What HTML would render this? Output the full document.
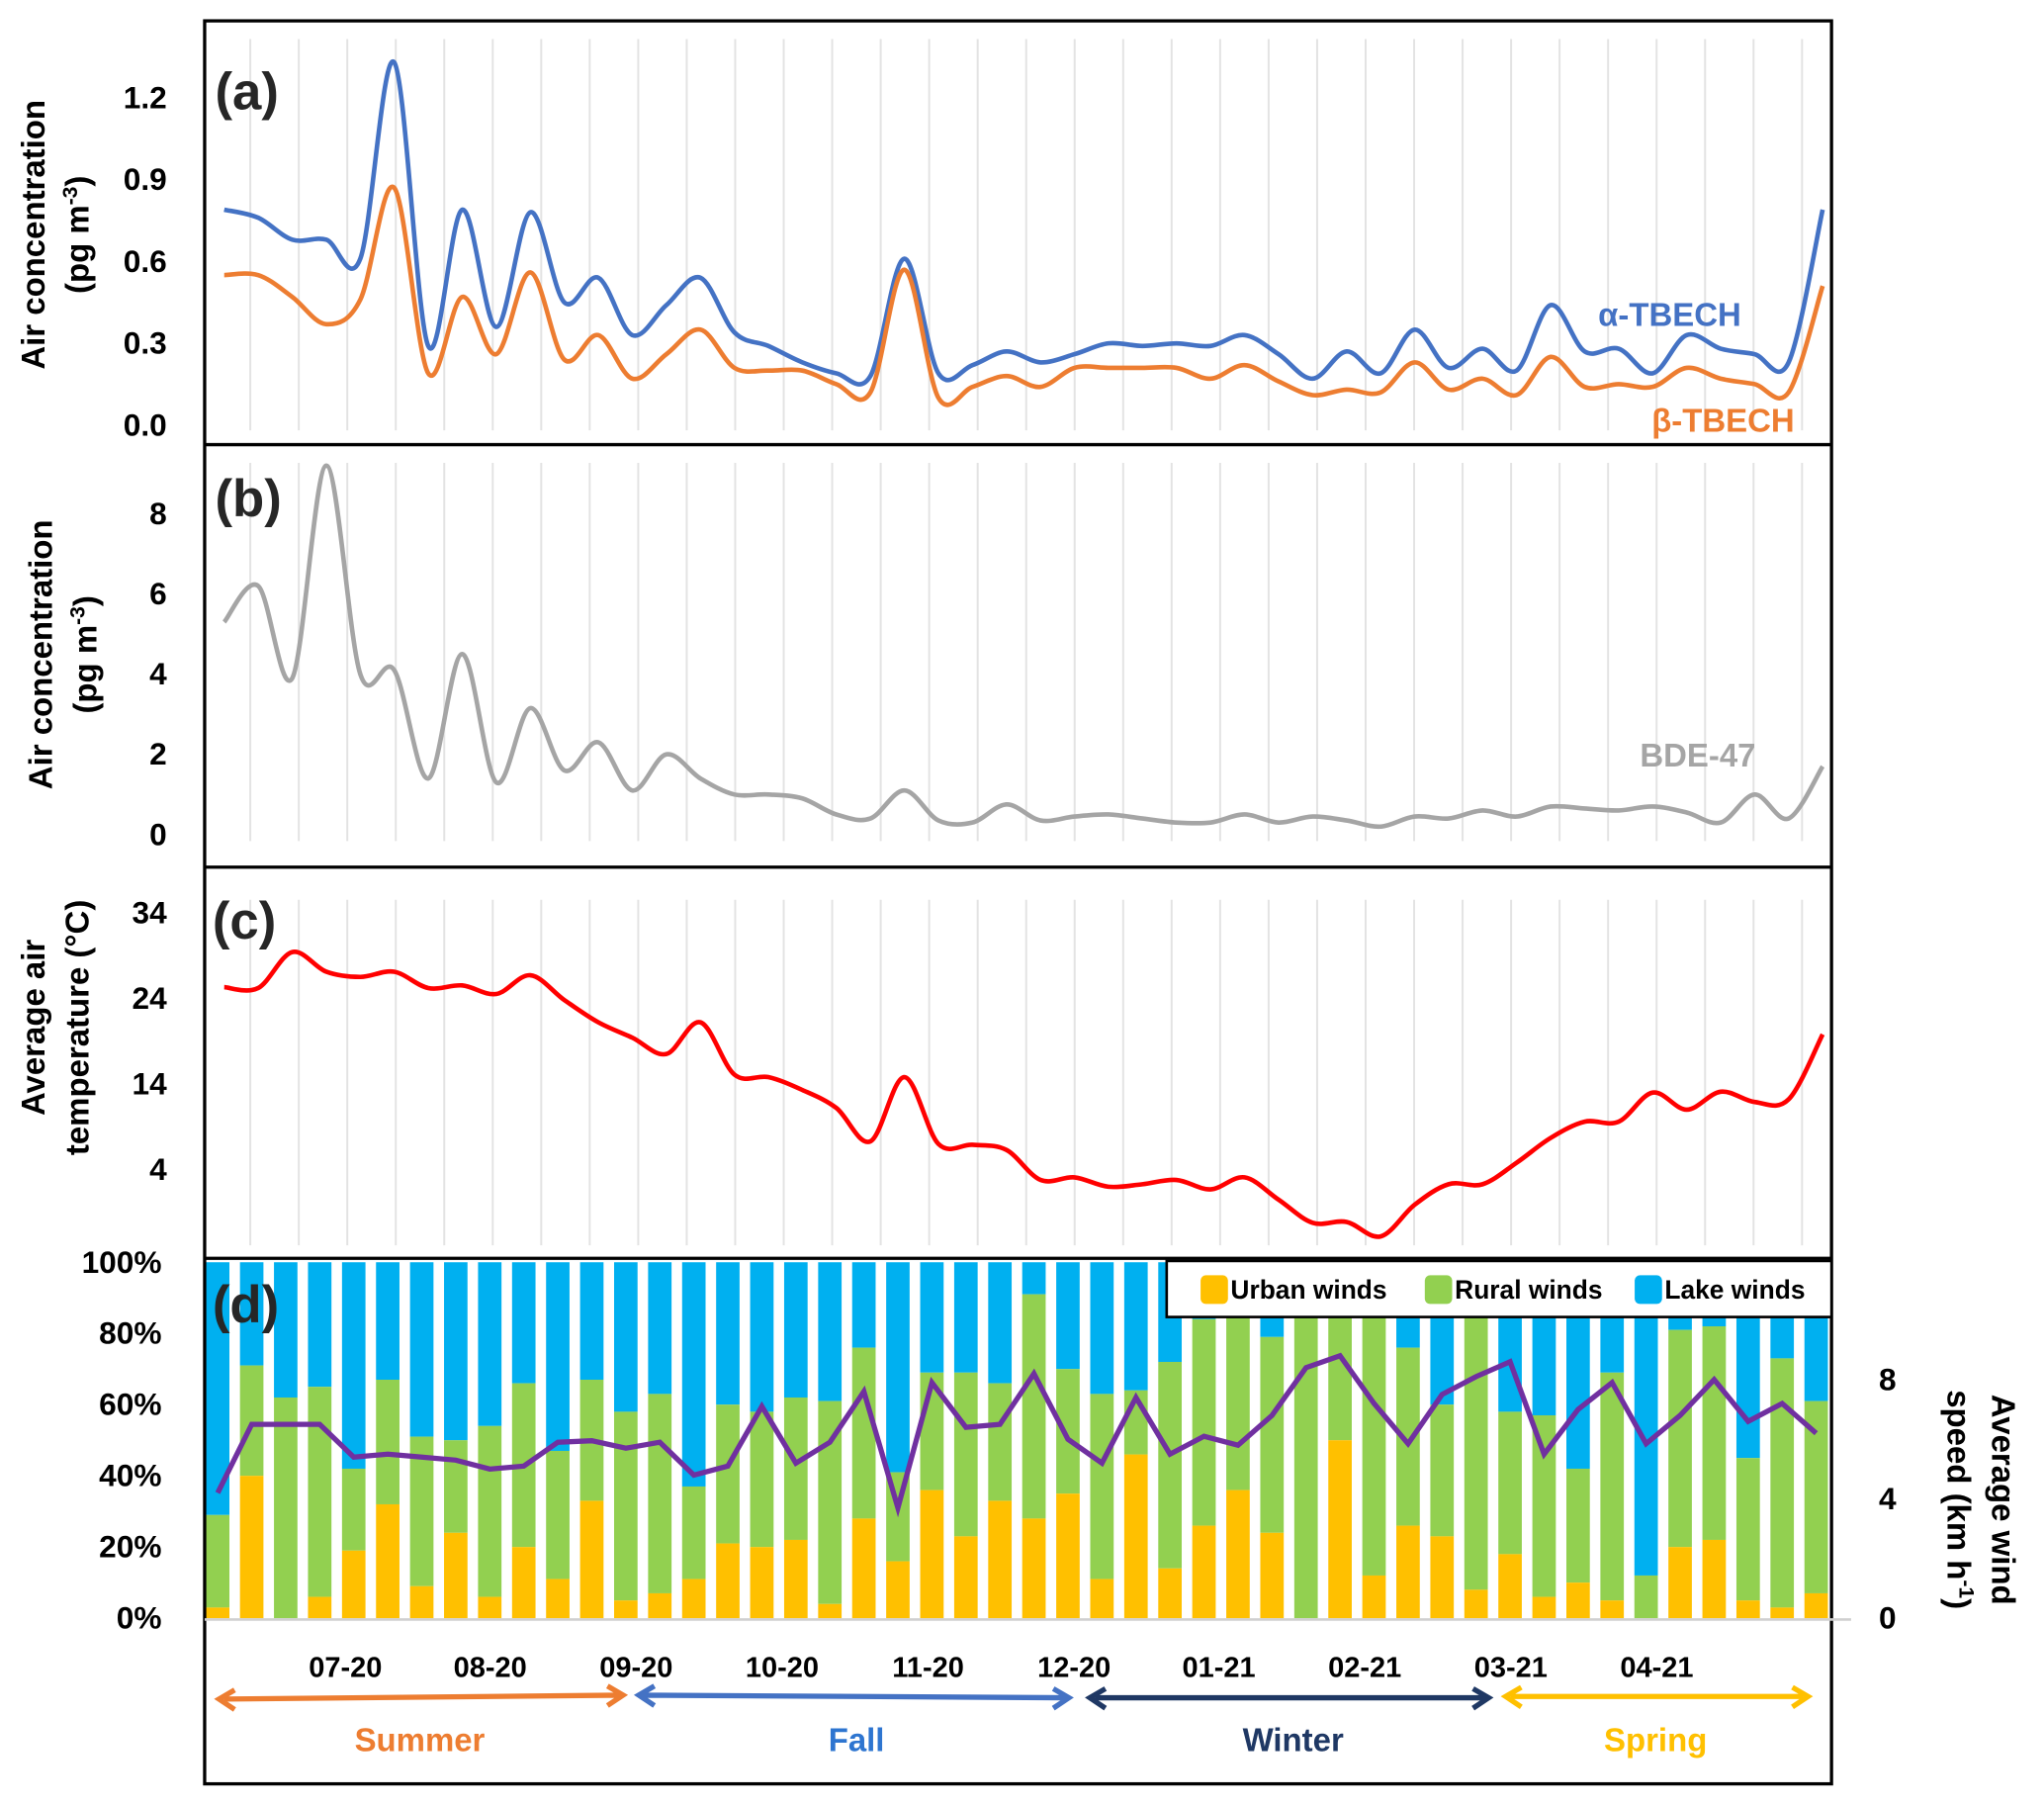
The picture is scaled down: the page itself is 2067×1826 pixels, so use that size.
<!DOCTYPE html>
<html><head><meta charset="utf-8"><style>
html,body{margin:0;padding:0;background:#fff}
svg{display:block}
text{font-family:"Liberation Sans",sans-serif}
.b{font-weight:bold}
</style></head><body>
<svg id="chart" width="2067" height="1826" viewBox="0 0 1568 1385" preserveAspectRatio="none" xmlns="http://www.w3.org/2000/svg">
<g id="grid"></g>
<g id="bars"></g>
<g id="lines"></g>
<g id="frame">
<rect x="157" y="16" width="1248" height="1352" fill="none" stroke="#000" stroke-width="2.5"/>
<line x1="157" y1="341" x2="1405" y2="341" stroke="#000" stroke-width="2.5"/>
<line x1="157" y1="665" x2="1405" y2="665" stroke="#000" stroke-width="2.5"/>
<line x1="157" y1="965" x2="1405" y2="965" stroke="#000" stroke-width="2.5"/>
<line x1="157" y1="1242" x2="1420" y2="1242" stroke="#d0d0d0" stroke-width="2"/>
</g>
<g id="ticks"></g>
<g>
<text x="165" y="84" font-size="40" class="b" fill="#262626">(a)</text>
<text x="165" y="396" font-size="40" class="b" fill="#262626">(b)</text>
<text x="163" y="720" font-size="40" class="b" fill="#262626">(c)</text>
<text x="163" y="1014" font-size="40" class="b" fill="#262626">(d)</text>
</g>
<g>
<text transform="translate(34,180) rotate(-90)" text-anchor="middle" font-size="25" class="b">Air concentration</text>
<text transform="translate(68,180) rotate(-90)" text-anchor="middle" font-size="25" class="b">(pg m<tspan font-size="16" dy="-9">-3</tspan><tspan dy="9">)</tspan></text>
<text transform="translate(40,502) rotate(-90)" text-anchor="middle" font-size="25" class="b">Air concentration</text>
<text transform="translate(74,502) rotate(-90)" text-anchor="middle" font-size="25" class="b">(pg m<tspan font-size="16" dy="-9">-3</tspan><tspan dy="9">)</tspan></text>
<text transform="translate(34,788) rotate(-90)" text-anchor="middle" font-size="25" class="b">Average air</text>
<text transform="translate(68,788) rotate(-90)" text-anchor="middle" font-size="25" class="b">temperature (°C)</text>
<text transform="translate(1528,1150) rotate(90)" text-anchor="middle" font-size="25" class="b">Average wind</text>
<text transform="translate(1494,1150) rotate(90)" text-anchor="middle" font-size="25" class="b">speed (km h<tspan font-size="16" dy="-9">-1</tspan><tspan dy="9">)</tspan></text>
</g>
<g>
<text x="1226" y="250" font-size="25" class="b" fill="#4472C4">α-TBECH</text>
<text x="1267" y="331" font-size="25" class="b" fill="#ED7D31">β-TBECH</text>
<text x="1258" y="588" font-size="25" class="b" fill="#A5A5A5">BDE-47</text>
</g>
<g>
<rect x="895" y="967" width="510" height="43" fill="#fff" stroke="#000" stroke-width="2"/>
<rect x="921" y="978" width="21" height="22" rx="4" fill="#FFC000"/>
<text x="944" y="996" font-size="20" class="b">Urban winds</text>
<rect x="1093" y="978" width="21" height="22" rx="4" fill="#92D050"/>
<text x="1116" y="996" font-size="20" class="b">Rural winds</text>
<rect x="1254" y="978" width="21" height="22" rx="4" fill="#00B0F0"/>
<text x="1277" y="996" font-size="20" class="b">Lake winds</text>
</g>
<g font-size="22" class="b">
<text x="265" y="1286" text-anchor="middle" class="b" font-size="22">07-20</text>
<text x="376" y="1286" text-anchor="middle" class="b" font-size="22">08-20</text>
<text x="488" y="1286" text-anchor="middle" class="b" font-size="22">09-20</text>
<text x="600" y="1286" text-anchor="middle" class="b" font-size="22">10-20</text>
<text x="712" y="1286" text-anchor="middle" class="b" font-size="22">11-20</text>
<text x="824" y="1286" text-anchor="middle" class="b" font-size="22">12-20</text>
<text x="935" y="1286" text-anchor="middle" class="b" font-size="22">01-21</text>
<text x="1047" y="1286" text-anchor="middle" class="b" font-size="22">02-21</text>
<text x="1159" y="1286" text-anchor="middle" class="b" font-size="22">03-21</text>
<text x="1271" y="1286" text-anchor="middle" class="b" font-size="22">04-21</text>
<g stroke-width="4" fill="none">
<path d="M172,1303 L476,1300 M180,1296 L168,1303 L180,1311 M466,1293 L478,1300 L466,1308" stroke="#ED7D31"/>
<path d="M492,1300 L818,1302 M502,1293 L490,1300 L502,1308 M808,1295 L820,1302 L808,1310" stroke="#4472C4"/>
<path d="M840,1302 L1140,1302 M848,1295 L836,1302 L848,1310 M1130,1295 L1142,1302 L1130,1310" stroke="#1F3864"/>
<path d="M1159,1301 L1383,1301 M1167,1294 L1155,1301 L1167,1309 M1375,1294 L1387,1301 L1375,1309" stroke="#FFC000"/>
</g>
<text x="322" y="1343" text-anchor="middle" font-size="25" class="b" fill="#ED7D31">Summer</text>
<text x="657" y="1343" text-anchor="middle" font-size="25" class="b" fill="#2E75D0">Fall</text>
<text x="992" y="1343" text-anchor="middle" font-size="25" class="b" fill="#1F3864">Winter</text>
<text x="1270" y="1343" text-anchor="middle" font-size="25" class="b" fill="#FFC000">Spring</text>
</g>
</svg>
<script>
const alphaTBECH=[0.79,0.76,0.68,0.68,0.61,1.33,0.29,0.79,0.36,0.78,0.45,0.54,0.33,0.44,0.54,0.34,0.29,0.23,0.19,0.18,0.61,0.19,0.22,0.27,0.23,0.26,0.30,0.29,0.30,0.29,0.33,0.26,0.17,0.27,0.19,0.35,0.21,0.28,0.20,0.44,0.27,0.28,0.19,0.33,0.28,0.26,0.23,0.79];
const betaTBECH=[0.55,0.55,0.47,0.37,0.46,0.87,0.19,0.47,0.26,0.56,0.24,0.33,0.17,0.26,0.35,0.21,0.20,0.20,0.15,0.12,0.57,0.10,0.14,0.18,0.14,0.21,0.21,0.21,0.21,0.17,0.22,0.16,0.11,0.13,0.12,0.23,0.13,0.17,0.11,0.25,0.14,0.15,0.14,0.21,0.17,0.15,0.12,0.51];
const bde47=[5.3,6.2,3.9,9.2,4.0,4.1,1.4,4.5,1.3,3.15,1.6,2.3,1.1,2.0,1.4,1.0,1.0,0.9,0.5,0.4,1.1,0.35,0.3,0.75,0.35,0.45,0.5,0.4,0.3,0.3,0.5,0.3,0.45,0.35,0.2,0.45,0.4,0.6,0.45,0.7,0.65,0.6,0.7,0.55,0.3,1.0,0.4,1.7];
const temperature=[25.3,25.2,29.4,27.1,26.5,27.1,25.2,25.5,24.5,26.7,23.8,21.2,19.4,17.5,21.2,15.1,14.8,13.3,11.2,7.3,14.8,7.0,6.9,6.3,2.8,3.1,2.0,2.3,2.8,1.7,3.1,0.5,-2.2,-2.1,-3.8,-0.1,2.3,2.3,4.8,7.7,9.6,9.6,13.0,11.0,13.1,11.9,12.2,19.8];
const urbanPct=[3,40,0,6,19,32,9,24,6,20,11,33,5,7,11,21,20,22,4,28,16,36,23,33,28,35,11,46,14,26,36,24,0,50,12,26,23,8,18,6,10,5,0,20,22,5,3,7];
const urbanRuralPct=[29,71,62,65,42,67,51,50,54,66,47,67,58,63,37,60,58,62,61,76,41,69,69,66,91,70,63,64,72,84,87,79,100,90,100,76,60,100,58,57,42,69,12,81,82,45,73,61];
const windSpeed=[4.2,6.5,6.5,6.5,5.4,5.5,5.4,5.3,5.0,5.1,5.9,5.95,5.7,5.9,4.8,5.1,7.1,5.2,5.9,7.6,3.7,7.9,6.4,6.5,8.2,6.0,5.2,7.4,5.5,6.1,5.8,6.8,8.4,8.8,7.2,5.85,7.5,8.1,8.6,5.5,7.0,7.9,5.85,6.8,8.0,6.6,7.2,6.2];
const ticksA=["0.0","0.3","0.6","0.9","1.2"];
const ticksB=["0","2","4","6","8"];
const ticksC=["4","14","24","34"];
const ticksD=["0%","20%","40%","60%","80%","100%"];
const ticksWind=["0","4","8"];

const NS="http://www.w3.org/2000/svg";
const X0=172,DX=26.09;
const xAt=i=>X0+i*DX;
const yA=v=>326-v*(251/1.2);
const yB=v=>640-v*(246/8);
const yC=v=>897-(v-4)*6.57;
const yD=p=>1241-p*2.73;
const yW=v=>1241-v*(183/8);
function el(tag,attrs,parent){const e=document.createElementNS(NS,tag);for(const k in attrs)e.setAttribute(k,attrs[k]);parent.appendChild(e);return e;}
function smooth(vals,yf){const p=vals.map((v,i)=>[xAt(i),yf(v)]);let d="M"+p[0][0]+","+p[0][1];
for(let i=0;i<p.length-1;i++){const p0=p[Math.max(i-1,0)],p1=p[i],p2=p[i+1],p3=p[Math.min(i+2,p.length-1)];
const c1=[p1[0]+(p2[0]-p0[0])/6,p1[1]+(p2[1]-p0[1])/6],c2=[p2[0]-(p3[0]-p1[0])/6,p2[1]-(p3[1]-p1[1])/6];
d+=" C"+c1[0].toFixed(1)+","+c1[1].toFixed(1)+" "+c2[0].toFixed(1)+","+c2[1].toFixed(1)+" "+p2[0].toFixed(1)+","+p2[1].toFixed(1);}return d;}

const grid=document.getElementById('grid');
for(let gx=192;gx<1398;gx+=37.2){
 [[30,330],[355,645],[690,955]].forEach(r=>{
  const l=el('line',{x1:gx,x2:gx,y1:r[0],y2:r[1],stroke:'#e3e3e3','stroke-width':1.5},grid);
  
  
 });
}

const bars=document.getElementById('bars');
const BW=18;
for(let i=0;i<urbanPct.length;i++){
 const x=xAt(i)-5-BW/2;
 const lake=el('rect',{x:x,y:yD(100),width:BW,height:yD(urbanRuralPct[i])-yD(100),fill:'#00B0F0'},bars);
 
 
 const rural=el('rect',{x:x,y:yD(urbanRuralPct[i]),width:BW,height:yD(urbanPct[i])-yD(urbanRuralPct[i]),fill:'#92D050'},bars);
 
 
 const urban=el('rect',{x:x,y:yD(urbanPct[i]),width:BW,height:yD(0)-yD(urbanPct[i]),fill:'#FFC000'},bars);
 
 
}

const lines=document.getElementById('lines');
const la=el('path',{d:smooth(alphaTBECH,yA),fill:'none',stroke:'#4472C4','stroke-width':3.5},lines);


const lb=el('path',{d:smooth(betaTBECH,yA),fill:'none',stroke:'#ED7D31','stroke-width':3.5},lines);


const lc=el('path',{d:smooth(bde47,yB),fill:'none',stroke:'#A5A5A5','stroke-width':3.5},lines);


const ld=el('path',{d:smooth(temperature,yC),fill:'none',stroke:'#FF0000','stroke-width':3.5},lines);


const lw=el('polyline',{points:windSpeed.map((v,i)=>(xAt(i)-5)+","+yW(v)).join(" "),fill:'none',stroke:'#7030A0','stroke-width':4,'stroke-linejoin':'miter'},lines);



const ticks=document.getElementById('ticks');
function tick(txt,x,y,anchor){const t=el('text',{x:x,y:y+8,'text-anchor':anchor,'font-size':24,'font-weight':'bold'},ticks);t.textContent=txt;
 
 }
ticksA.forEach(s=>tick(s,128,yA(parseFloat(s)),'end'));
ticksB.forEach(s=>tick(s,128,yB(parseFloat(s)),'end'));
ticksC.forEach(s=>tick(s,128,yC(parseFloat(s)),'end'));
ticksD.forEach(s=>tick(s,124,yD(parseFloat(s)),'end'));
ticksWind.forEach(s=>tick(s,1448,yW(parseFloat(s)),'middle'));
</script>
</body></html>
